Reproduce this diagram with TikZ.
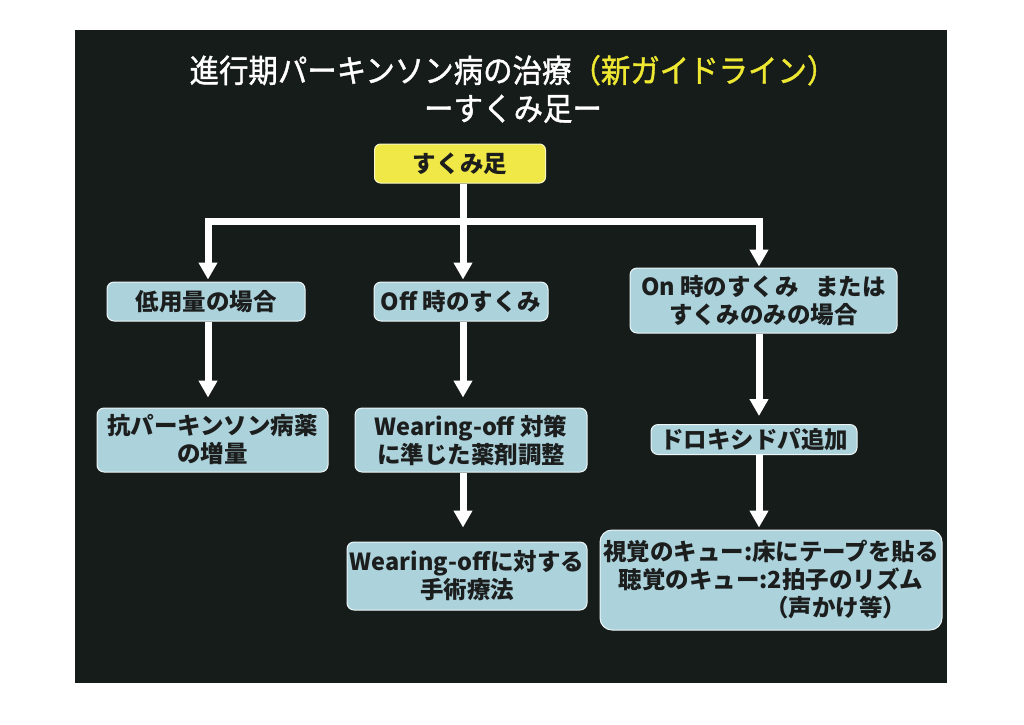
\documentclass[tikz,border=0pt]{standalone}
\usepackage{fontspec}
\newfontfamily\jp{Noto Sans CJK JP}
\newfontfamily\jptitle{Noto Sans CJK JP}[FakeStretch=0.92,FakeBold=1.2]
\usetikzlibrary{arrows.meta}
\definecolor{panelbg}{RGB}{22,28,25}
\definecolor{boxblue}{RGB}{172,210,220}
\definecolor{boxyellow}{RGB}{240,232,70}
\definecolor{titleyellow}{RGB}{238,232,50}
\definecolor{boxtext}{RGB}{28,30,30}
\begin{document}
\begin{tikzpicture}[x=1pt,y=-1pt,
  bluebox/.style={fill=boxblue, draw=white!80!boxblue, line width=1pt, rounded corners=7pt,
    inner sep=0pt, align=center, font=\jp\bfseries\fontsize{23.5}{28}\selectfont, text=boxtext},
  yellowbox/.style={fill=boxyellow, draw=white!70!boxyellow, line width=1pt, rounded corners=6pt,
    inner sep=0pt, align=center, font=\jp\bfseries\fontsize{23.5}{28}\selectfont, text=boxtext},
  conn/.style={draw=white, line width=7pt},
  arr/.style={draw=white, line width=7pt, -{Triangle[width=18pt,length=17pt]}}
]
\useasboundingbox (0,0) rectangle (1024,724);
\fill[white] (0,0) rectangle (1024,724);
\fill[panelbg] (75,30) rectangle (947,683);

\node[font=\jptitle\fontsize{32}{38}\selectfont, text=white, align=center, inner sep=0pt] (title) at (513,89)
  {進行期パーキンソン病の治療{\color{titleyellow}（新ガイドライン）}\\ーすくみ足ー};

\node[yellowbox, minimum width=171pt, minimum height=39pt] (top) at (460,163.5) {すくみ足};

\node[bluebox, minimum width=198pt, minimum height=39pt] (low) at (206,301.5) {低用量の場合};
\node[bluebox, minimum width=174pt, minimum height=39pt] (off) at (461,301.5) {Off 時のすくみ};
\node[bluebox, minimum width=267pt, minimum height=65pt] (on) at (763.5,300.5) {On 時のすくみ\hspace{0.7em}または\\すくみのみの場合};

\node[bluebox, minimum width=231pt, minimum height=64pt] (inc) at (212.5,440) {抗パーキンソン病薬\\の増量};
\node[bluebox, minimum width=232pt, minimum height=64pt] (woff) at (471,440) {Wearing-off 対策\\に準じた薬剤調整};
\node[bluebox, minimum width=206pt, minimum height=30pt] (dro) at (754,439.5) {ドロキシドパ追加};

\node[bluebox, minimum width=240pt, minimum height=68pt] (surg) at (467,576) {Wearing-offに対する\\手術療法};
\node[bluebox, minimum width=342pt, minimum height=100pt, rounded corners=12pt] (cue) at (771,580)
  {視覚のキュー:床にテープを貼る\\聴覚のキュー:2拍子のリズム\\\hspace*{5.5em}（声かけ等）};

\coordinate (jl) at (208,221);
\coordinate (jm) at (463,221);
\coordinate (jr) at (759,221);

\draw[conn] (top.south -| jm) -- (jm);
\draw[conn, line cap=rect] (jl) -- (jr);
\draw[arr, shorten >=2pt] (jl) -- (jl |- low.north);
\draw[arr, shorten >=2pt] (jm) -- (jm |- off.north);
\draw[arr, shorten >=1pt] (jr) -- (jr |- on.north);

\draw[arr, shorten >=10pt] (low.south -| jl) -- (inc.north -| jl);
\draw[arr, shorten >=10pt] (off.south -| jm) -- (woff.north -| jm);
\draw[arr, shorten >=8pt] (on.south -| jr) -- (dro.north -| jr);
\draw[arr, shorten >=14pt] (woff.south -| jm) -- (surg.north -| jm);
\draw[arr, shorten >=2pt] (dro.south -| jr) -- (cue.north -| jr);
\end{tikzpicture}
\end{document}
